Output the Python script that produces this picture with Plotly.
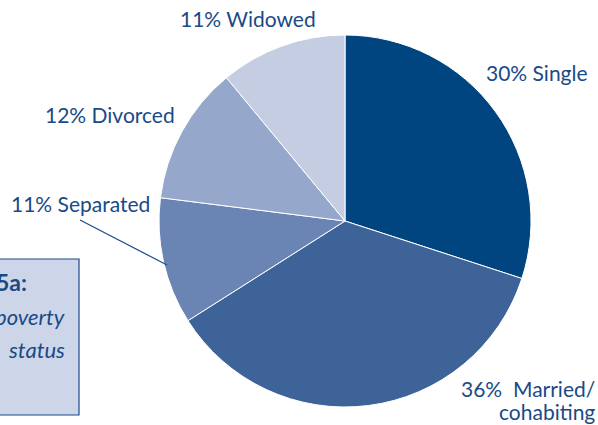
import plotly.graph_objects as go

W, H = 598, 425
categories = ["Single", "Married/<br>cohabiting", "Separated", "Divorced", "Widowed"]
values = [30, 36, 11, 12, 11]
colors = ["#00457f", "#3d6399", "#6a84b4", "#95a7ca", "#c5cde3"]
label_texts = ["30% Single", "36%  Married/", "cohabiting", "11% Separated", "12% Divorced", "11% Widowed"]

NAVY = "#1a4a86"
FONT = "Lato"

def px(x):
    return x / W

def py(y):
    return 1 - y / H

cx, cy, r = 345, 221, 186

fig = go.Figure(go.Pie(
    labels=categories,
    values=values,
    sort=False,
    direction="clockwise",
    rotation=0,
    textinfo="none",
    hoverinfo="label+percent",
    marker=dict(colors=colors, line=dict(color="white", width=1)),
    domain=dict(x=[px(cx - r), px(cx + r)], y=[py(cy + r), py(cy - r)]),
    showlegend=False,
))

# label positions (pixel, right edge / vertical centre)
label_pos = [
    (590, 72),
    (597, 388),
    (597, 411),
    (152, 203),
    (177, 115),
    (318, 19),
]
annotations = []
for t, (x, y) in zip(label_texts, label_pos):
    annotations.append(dict(
        x=px(x), y=py(y), xref="paper", yref="paper", text=t,
        showarrow=False, xanchor="right", yanchor="middle", align="right",
        font=dict(family=FONT, size=21, color=NAVY),
    ))

# side box text (cut off at the left edge, as in the reference)
annotations += [
    dict(x=px(29), y=py(282), xref="paper", yref="paper", text="<b>5a:</b>",
         showarrow=False, xanchor="right", yanchor="middle",
         font=dict(family=FONT, size=23, color=NAVY)),
    dict(x=px(67), y=py(316), xref="paper", yref="paper", text="<i>poverty</i>",
         showarrow=False, xanchor="right", yanchor="middle",
         font=dict(family=FONT, size=22, color=NAVY)),
    dict(x=px(67), y=py(349), xref="paper", yref="paper", text="<i>status</i>",
         showarrow=False, xanchor="right", yanchor="middle",
         font=dict(family=FONT, size=22, color=NAVY)),
]

shapes = [
    dict(type="rect", xref="paper", yref="paper",
         x0=px(-10), x1=px(79), y0=py(415), y1=py(259),
         fillcolor="#cdd6e8", line=dict(color=NAVY, width=1.2), layer="below"),
    dict(type="line", xref="paper", yref="paper",
         x0=px(80), y0=py(220), x1=px(167), y1=py(265),
         line=dict(color=NAVY, width=1.2)),
]

fig.update_layout(
    width=W, height=H,
    margin=dict(l=0, r=0, t=0, b=0),
    paper_bgcolor="white",
    plot_bgcolor="white",
    annotations=annotations,
    shapes=shapes,
)

fig.write_html("out.html", config={"displayModeBar": False},
               post_script="document.body.style.margin='0';")
